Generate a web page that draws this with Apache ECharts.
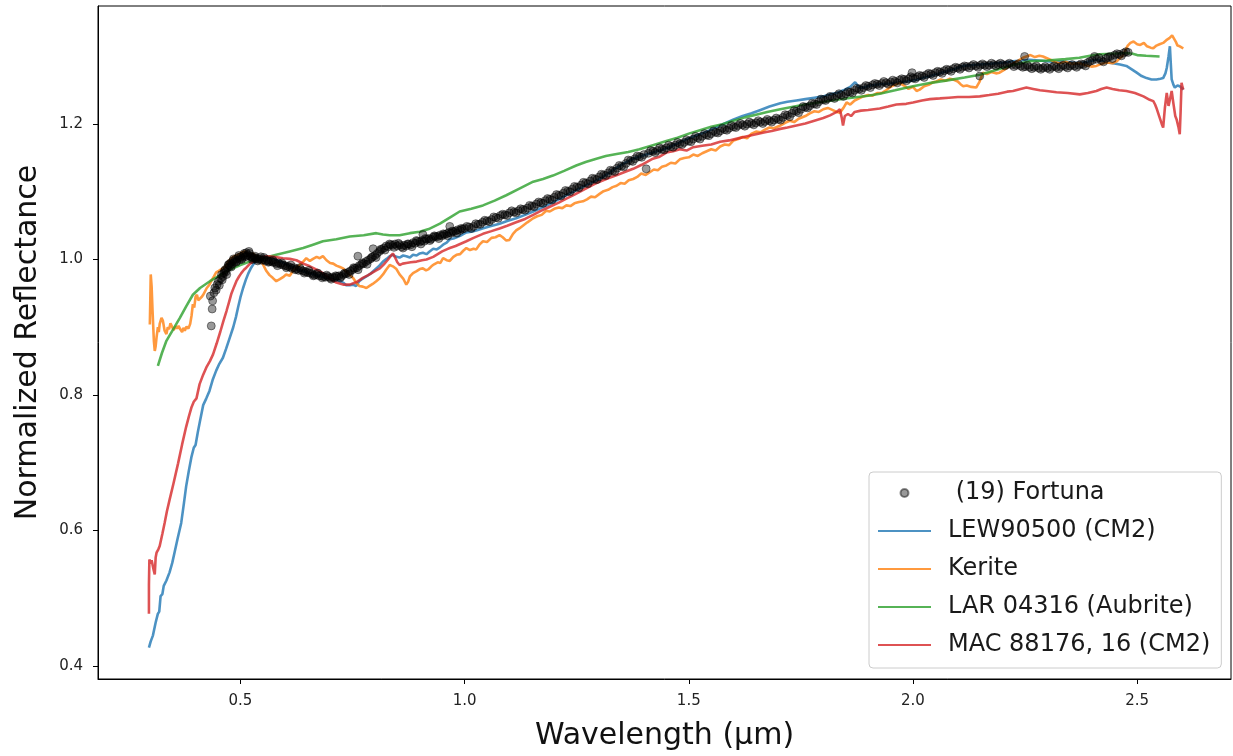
<!DOCTYPE html>
<html>
<head>
<meta charset="utf-8">
<script src="https://cdn.jsdelivr.net/npm/echarts@6/dist/echarts.min.js"></script>
<style>html,body{margin:0;padding:0;background:#fff}#c{width:1233px;height:756px}</style>
</head>
<body>
<div id="c"></div>
<script>
const xTicks = [0.5, 1.0, 1.5, 2.0, 2.5];
const yTicks = [0.4, 0.6, 0.8, 1.0, 1.2];
const seriesNames = [' (19) Fortuna', 'LEW90500 (CM2)', 'Kerite', 'LAR 04316 (Aubrite)', 'MAC 88176, 16 (CM2)'];

const fortuna = [[0.435,0.902],[0.437,0.927],[0.433,0.946],[0.438,0.939],[0.441,0.951],[0.443,0.958],[0.446,0.955],[0.448,0.963],[0.451,0.968],[0.453,0.962],[0.456,0.972],[0.458,0.978],[0.461,0.975],[0.463,0.980],[0.466,0.985],[0.468,0.982],[0.471,0.988],[0.473,0.992],[0.476,0.990],[0.478,0.995],[0.481,0.993],[0.483,0.998],[0.486,0.996],[0.489,1.000],[0.492,0.998],[0.495,1.003],[0.498,1.000],[0.501,1.004],[0.504,1.002],[0.507,1.006],[0.510,1.004],[0.513,1.010],[0.516,1.007],[0.519,1.012],[0.522,1.005],[0.525,1.004],[0.528,1.002],[0.531,1.003],[0.534,1.001],[0.537,1.002],[0.540,1.000],[0.544,1.001],[0.548,0.999],[0.552,1.000],[0.556,0.998],[0.560,0.999],[0.564,0.997],[0.568,0.998],[0.572,0.996],[0.576,0.996],[0.580,0.994],[0.585,0.995],[0.590,0.993],[0.595,0.992],[0.600,0.991],[0.605,0.990],[0.610,0.989],[0.615,0.987],[0.620,0.988],[0.625,0.986],[0.630,0.984],[0.635,0.985],[0.640,0.983],[0.645,0.982],[0.650,0.981],[0.655,0.980],[0.660,0.979],[0.665,0.977],[0.670,0.978],[0.675,0.976],[0.680,0.976],[0.685,0.975],[0.690,0.974],[0.695,0.975],[0.700,0.973],[0.705,0.974],[0.710,0.973],[0.715,0.975],[0.720,0.976],[0.725,0.975],[0.730,0.978],[0.735,0.979],[0.740,0.981],[0.745,0.983],[0.750,0.985],[0.755,0.987],[0.760,0.988],[0.762,1.005],[0.765,0.991],[0.770,0.993],[0.775,0.994],[0.780,0.997],[0.785,0.999],[0.790,1.001],[0.795,1.004],[0.796,1.016],[0.800,1.006],[0.805,1.009],[0.810,1.012],[0.815,1.015],[0.820,1.017],[0.825,1.020],[0.830,1.019],[0.835,1.022],[0.840,1.021],[0.845,1.023],[0.850,1.020],[0.855,1.022],[0.860,1.019],[0.865,1.021],[0.870,1.020],[0.875,1.023],[0.880,1.022],[0.885,1.025],[0.890,1.024],[0.895,1.027],[0.900,1.026],[0.905,1.028],[0.907,1.037],[0.910,1.027],[0.915,1.030],[0.920,1.031],[0.925,1.030],[0.930,1.033],[0.935,1.034],[0.940,1.034],[0.945,1.036],[0.950,1.035],[0.955,1.037],[0.960,1.038],[0.965,1.040],[0.967,1.049],[0.970,1.039],[0.975,1.041],[0.980,1.042],[0.985,1.044],[0.990,1.043],[0.995,1.045],[1.000,1.046],[1.010,1.048],[1.020,1.049],[1.030,1.052],[1.040,1.055],[1.050,1.057],[1.060,1.059],[1.070,1.062],[1.080,1.065],[1.090,1.066],[1.100,1.069],[1.110,1.070],[1.120,1.072],[1.130,1.074],[1.140,1.076],[1.150,1.079],[1.160,1.082],[1.170,1.084],[1.180,1.087],[1.190,1.089],[1.200,1.092],[1.210,1.095],[1.220,1.098],[1.230,1.101],[1.240,1.104],[1.250,1.107],[1.260,1.110],[1.270,1.113],[1.280,1.116],[1.290,1.119],[1.300,1.122],[1.310,1.125],[1.320,1.128],[1.330,1.131],[1.340,1.135],[1.350,1.138],[1.360,1.142],[1.370,1.146],[1.380,1.149],[1.390,1.152],[1.400,1.155],[1.405,1.134],[1.410,1.157],[1.420,1.160],[1.430,1.161],[1.440,1.163],[1.450,1.165],[1.460,1.167],[1.470,1.169],[1.480,1.171],[1.490,1.173],[1.500,1.175],[1.510,1.178],[1.520,1.180],[1.530,1.182],[1.540,1.184],[1.550,1.186],[1.560,1.188],[1.570,1.190],[1.580,1.192],[1.590,1.194],[1.600,1.196],[1.610,1.198],[1.620,1.199],[1.630,1.200],[1.640,1.201],[1.650,1.202],[1.660,1.203],[1.670,1.204],[1.680,1.205],[1.690,1.206],[1.700,1.207],[1.710,1.210],[1.720,1.213],[1.730,1.216],[1.740,1.219],[1.750,1.222],[1.760,1.225],[1.770,1.227],[1.780,1.230],[1.790,1.233],[1.800,1.236],[1.810,1.238],[1.820,1.240],[1.830,1.242],[1.840,1.243],[1.850,1.245],[1.860,1.247],[1.870,1.250],[1.880,1.252],[1.890,1.254],[1.900,1.256],[1.910,1.258],[1.920,1.259],[1.930,1.260],[1.940,1.261],[1.950,1.262],[1.960,1.263],[1.970,1.265],[1.980,1.266],[1.990,1.267],[1.998,1.276],[2.000,1.268],[2.010,1.270],[2.020,1.271],[2.030,1.273],[2.040,1.274],[2.050,1.276],[2.060,1.277],[2.070,1.279],[2.080,1.280],[2.090,1.282],[2.100,1.283],[2.110,1.284],[2.120,1.285],[2.130,1.286],[2.140,1.286],[2.149,1.271],[2.150,1.287],[2.160,1.287],[2.170,1.287],[2.180,1.288],[2.190,1.288],[2.200,1.288],[2.210,1.288],[2.220,1.288],[2.230,1.287],[2.240,1.286],[2.249,1.300],[2.250,1.285],[2.260,1.284],[2.270,1.284],[2.280,1.283],[2.290,1.283],[2.300,1.283],[2.310,1.284],[2.320,1.284],[2.330,1.285],[2.340,1.285],[2.350,1.286],[2.360,1.286],[2.370,1.287],[2.380,1.288],[2.390,1.291],[2.400,1.294],[2.405,1.300],[2.410,1.296],[2.420,1.294],[2.430,1.297],[2.440,1.300],[2.450,1.302],[2.460,1.303],[2.470,1.305],[2.480,1.306],
[0.4595,0.970],[0.4645,0.983],[0.4695,0.978],[0.4745,0.993],[0.4795,0.989],[0.4845,1.001],[0.4905,0.996],[0.4965,1.006],[0.5025,1.000],[0.5085,1.009],[0.5145,1.005],[0.5205,1.009],[0.5265,1.000],[0.5325,1.005],[0.5385,0.998],[0.5455,1.004],
[0.5525,1.003],[0.5625,0.996],[0.5725,0.999],[0.5825,0.991],[0.5925,0.995],[0.6025,0.988],[0.6125,0.992],[0.6225,0.985],[0.6325,0.988],[0.6425,0.980],[0.6525,0.984],[0.6625,0.976],[0.6725,0.980],[0.6825,0.973],[0.6925,0.977],[0.7025,0.971],[0.7125,0.976],[0.7225,0.973],[0.7325,0.980],[0.7425,0.978],[0.7525,0.988],[0.7625,0.985],[0.7725,0.995],[0.7825,0.993],[0.7925,1.003],[0.8025,1.003],[0.8125,1.015],[0.8225,1.014],[0.8325,1.023],[0.8425,1.018],[0.8525,1.024],[0.8625,1.017],[0.8725,1.023],[0.8825,1.019],[0.8925,1.028],[0.9025,1.023],[0.9125,1.031],[0.9225,1.028],[0.9325,1.035],[0.9425,1.031],[0.9525,1.038],[0.9625,1.035],[0.9725,1.042],[0.9825,1.039],[0.9925,1.046],
[1.005,1.049],[1.015,1.046],[1.025,1.053],[1.035,1.052],[1.045,1.058],[1.055,1.056],[1.065,1.063],[1.075,1.061],[1.085,1.067],[1.095,1.065],[1.105,1.072],[1.115,1.069],[1.125,1.075],[1.135,1.073],[1.145,1.080],[1.155,1.078],[1.165,1.085],[1.175,1.083],[1.185,1.090],[1.195,1.088],[1.205,1.096],[1.215,1.094],[1.225,1.102],[1.235,1.100],[1.245,1.108],[1.255,1.106],[1.265,1.114],[1.275,1.112],[1.285,1.120],[1.295,1.118],[1.305,1.126],[1.315,1.124],[1.325,1.132],[1.335,1.130],[1.345,1.139],[1.355,1.137],[1.365,1.147],[1.375,1.145],[1.385,1.153],[1.395,1.151],[1.415,1.161],[1.425,1.158],[1.435,1.165],[1.445,1.162],[1.455,1.169],[1.465,1.166],[1.475,1.173],[1.485,1.170],[1.495,1.177],[1.505,1.174],[1.515,1.182],[1.525,1.178],[1.535,1.186],[1.545,1.183],[1.555,1.190],[1.565,1.187],[1.575,1.194],[1.585,1.191],[1.595,1.198],[1.605,1.195],[1.615,1.201],[1.625,1.197],[1.635,1.203],[1.645,1.199],[1.655,1.205],[1.665,1.201],[1.675,1.207],[1.685,1.203],[1.695,1.209],[1.705,1.206],[1.715,1.214],[1.725,1.211],[1.735,1.220],[1.745,1.217],[1.755,1.226],[1.765,1.224],[1.775,1.231],[1.785,1.229],[1.795,1.237],[1.805,1.235],[1.815,1.241],[1.825,1.238],[1.835,1.245],[1.845,1.241],[1.855,1.248],[1.865,1.246],[1.875,1.253],[1.885,1.250],[1.895,1.257],[1.905,1.254],[1.915,1.260],[1.925,1.257],[1.935,1.263],[1.945,1.259],[1.955,1.265],[1.965,1.261],[1.975,1.267],[1.985,1.264],[1.995,1.270],[2.005,1.267],[2.015,1.272],[2.025,1.269],[2.035,1.275],[2.045,1.272],[2.055,1.278],[2.065,1.275],[2.075,1.281],[2.085,1.278],[2.095,1.284],[2.105,1.281],[2.115,1.286],[2.125,1.283],[2.135,1.288],[2.145,1.284],[2.155,1.289],[2.165,1.285],[2.175,1.290],[2.185,1.286],[2.195,1.290],[2.205,1.286],[2.215,1.290],[2.225,1.285],[2.235,1.289],[2.245,1.284],[2.255,1.287],[2.265,1.282],[2.275,1.286],[2.285,1.281],[2.295,1.285],[2.305,1.281],[2.315,1.286],[2.325,1.282],[2.335,1.287],[2.345,1.283],[2.355,1.288],[2.365,1.284],[2.375,1.289],[2.385,1.286],[2.395,1.293],[2.415,1.298],[2.425,1.292],[2.435,1.299],[2.445,1.297],[2.455,1.304],[2.465,1.301],[2.475,1.307]];

const lew90500 = [[0.296,0.427],[0.300,0.436],[0.305,0.445],[0.308,0.447],[0.311,0.464],[0.313,0.462],[0.316,0.477],[0.319,0.480],[0.322,0.503],[0.326,0.506],[0.329,0.518],[0.335,0.526],[0.342,0.538],[0.348,0.552],[0.353,0.567],[0.360,0.588],[0.368,0.611],[0.374,0.640],[0.379,0.665],[0.385,0.688],[0.391,0.709],[0.396,0.722],[0.400,0.726],[0.405,0.745],[0.410,0.762],[0.417,0.785],[0.424,0.795],[0.431,0.806],[0.438,0.822],[0.446,0.836],[0.453,0.846],[0.461,0.855],[0.468,0.868],[0.476,0.884],[0.484,0.900],[0.490,0.915],[0.495,0.930],[0.500,0.944],[0.506,0.958],[0.512,0.970],[0.518,0.980],[0.524,0.988],[0.530,0.994],[0.537,0.999],[0.545,1.002],[0.555,1.004],[0.565,1.004],[0.575,1.001],[0.590,0.997],[0.605,0.992],[0.620,0.988],[0.635,0.984],[0.650,0.981],[0.665,0.978],[0.680,0.975],[0.695,0.973],[0.710,0.970],[0.722,0.968],[0.729,0.966],[0.736,0.962],[0.744,0.962],[0.751,0.963],[0.758,0.961],[0.765,0.968],[0.773,0.972],[0.781,0.975],[0.790,0.979],[0.800,0.985],[0.810,0.991],[0.818,0.997],[0.826,1.001],[0.833,1.005],[0.840,1.007],[0.848,1.004],[0.855,1.003],[0.863,1.006],[0.870,1.005],[0.878,1.003],[0.885,1.007],[0.893,1.006],[0.900,1.009],[0.907,1.010],[0.915,1.008],[0.922,1.012],[0.930,1.016],[0.938,1.015],[0.945,1.018],[0.952,1.022],[0.960,1.025],[0.967,1.030],[0.975,1.031],[0.982,1.033],[0.990,1.035],[1.004,1.040],[1.015,1.041],[1.026,1.043],[1.040,1.046],[1.055,1.049],[1.078,1.053],[1.095,1.057],[1.115,1.061],[1.135,1.066],[1.153,1.071],[1.170,1.076],[1.190,1.082],[1.210,1.089],[1.227,1.095],[1.245,1.101],[1.265,1.108],[1.285,1.114],[1.301,1.119],[1.320,1.127],[1.340,1.136],[1.361,1.144],[1.380,1.150],[1.400,1.154],[1.420,1.158],[1.440,1.162],[1.460,1.167],[1.480,1.173],[1.500,1.179],[1.520,1.184],[1.540,1.189],[1.560,1.195],[1.580,1.201],[1.600,1.207],[1.620,1.212],[1.640,1.216],[1.660,1.221],[1.680,1.226],[1.704,1.231],[1.720,1.233],[1.740,1.235],[1.760,1.237],[1.780,1.239],[1.800,1.241],[1.815,1.244],[1.830,1.246],[1.845,1.250],[1.860,1.255],[1.871,1.262],[1.880,1.254],[1.889,1.254],[1.905,1.257],[1.926,1.259],[1.950,1.260],[1.970,1.262],[1.986,1.263],[2.005,1.265],[2.020,1.268],[2.038,1.271],[2.055,1.274],[2.075,1.278],[2.095,1.282],[2.112,1.286],[2.130,1.287],[2.149,1.288],[2.170,1.289],[2.186,1.290],[2.205,1.291],[2.223,1.293],[2.240,1.294],[2.260,1.295],[2.280,1.294],[2.298,1.293],[2.315,1.292],[2.335,1.293],[2.355,1.291],[2.372,1.290],[2.390,1.292],[2.409,1.295],[2.428,1.292],[2.446,1.290],[2.462,1.288],[2.476,1.286],[2.488,1.281],[2.499,1.276],[2.510,1.271],[2.521,1.268],[2.532,1.266],[2.543,1.266],[2.552,1.267],[2.558,1.268],[2.563,1.275],[2.566,1.283],[2.570,1.300],[2.573,1.315],[2.575,1.290],[2.577,1.266],[2.581,1.258],[2.584,1.254],[2.590,1.257],[2.595,1.256],[2.600,1.253],[2.603,1.251]];

const kerite = [[0.298,0.904],[0.299,0.940],[0.300,0.978],[0.302,0.960],[0.304,0.925],[0.307,0.880],[0.309,0.865],[0.311,0.872],[0.313,0.885],[0.316,0.900],[0.318,0.893],[0.320,0.905],[0.324,0.914],[0.327,0.910],[0.331,0.895],[0.335,0.890],[0.338,0.900],[0.341,0.897],[0.344,0.906],[0.348,0.904],[0.351,0.896],[0.353,0.895],[0.356,0.901],[0.359,0.898],[0.362,0.902],[0.366,0.897],[0.370,0.893],[0.373,0.899],[0.376,0.895],[0.380,0.901],[0.384,0.898],[0.388,0.905],[0.391,0.917],[0.394,0.934],[0.397,0.929],[0.400,0.945],[0.403,0.948],[0.406,0.940],[0.410,0.939],[0.414,0.945],[0.417,0.948],[0.421,0.950],[0.425,0.958],[0.430,0.962],[0.435,0.968],[0.441,0.975],[0.446,0.981],[0.451,0.983],[0.456,0.985],[0.461,0.987],[0.467,0.990],[0.473,0.997],[0.480,1.002],[0.487,1.005],[0.495,1.007],[0.502,1.010],[0.510,1.012],[0.516,1.008],[0.521,1.005],[0.528,1.009],[0.536,1.004],[0.545,1.000],[0.551,0.992],[0.558,0.983],[0.565,0.977],[0.572,0.973],[0.580,0.968],[0.588,0.971],[0.595,0.974],[0.602,0.978],[0.610,0.976],[0.617,0.983],[0.625,0.988],[0.632,0.992],[0.640,0.997],[0.647,1.002],[0.655,0.998],[0.662,1.001],[0.670,1.004],[0.677,1.002],[0.684,1.005],[0.692,0.999],[0.700,0.995],[0.707,0.994],[0.714,0.991],[0.722,0.989],[0.729,0.987],[0.736,0.982],[0.744,0.977],[0.751,0.973],[0.758,0.966],[0.765,0.961],[0.773,0.960],[0.781,0.958],[0.788,0.961],[0.795,0.964],[0.803,0.968],[0.810,0.972],[0.818,0.978],[0.825,0.985],[0.833,0.992],[0.840,0.990],[0.848,0.986],[0.855,0.978],[0.863,0.972],[0.870,0.963],[0.874,0.967],[0.878,0.975],[0.885,0.980],[0.893,0.983],[0.900,0.986],[0.907,0.987],[0.914,0.984],[0.920,0.986],[0.926,0.990],[0.932,0.993],[0.940,0.996],[0.946,0.995],[0.952,1.002],[0.960,0.999],[0.967,0.998],[0.975,1.004],[0.982,1.007],[0.990,1.008],[0.997,1.013],[1.004,1.017],[1.012,1.014],[1.020,1.016],[1.026,1.015],[1.033,1.022],[1.041,1.027],[1.050,1.026],[1.060,1.032],[1.069,1.033],[1.078,1.036],[1.085,1.033],[1.093,1.028],[1.100,1.029],[1.108,1.038],[1.115,1.043],[1.122,1.046],[1.130,1.050],[1.140,1.055],[1.153,1.061],[1.162,1.064],[1.172,1.066],[1.182,1.072],[1.190,1.071],[1.200,1.075],[1.210,1.077],[1.218,1.076],[1.227,1.080],[1.236,1.079],[1.245,1.083],[1.255,1.085],[1.264,1.086],[1.273,1.089],[1.282,1.093],[1.291,1.092],[1.301,1.097],[1.310,1.101],[1.320,1.103],[1.330,1.107],[1.339,1.109],[1.348,1.113],[1.357,1.112],[1.366,1.117],[1.376,1.119],[1.385,1.122],[1.394,1.127],[1.404,1.125],[1.413,1.129],[1.422,1.133],[1.431,1.132],[1.440,1.137],[1.450,1.139],[1.460,1.143],[1.470,1.142],[1.480,1.148],[1.490,1.150],[1.500,1.151],[1.510,1.155],[1.520,1.153],[1.530,1.157],[1.540,1.160],[1.550,1.163],[1.560,1.161],[1.570,1.167],[1.580,1.170],[1.590,1.169],[1.600,1.176],[1.610,1.178],[1.620,1.181],[1.630,1.179],[1.640,1.186],[1.650,1.189],[1.660,1.188],[1.670,1.192],[1.680,1.195],[1.690,1.194],[1.704,1.198],[1.715,1.202],[1.725,1.205],[1.735,1.203],[1.745,1.208],[1.760,1.212],[1.770,1.216],[1.780,1.219],[1.790,1.218],[1.800,1.222],[1.810,1.224],[1.820,1.221],[1.830,1.218],[1.837,1.217],[1.845,1.224],[1.852,1.232],[1.860,1.229],[1.870,1.235],[1.880,1.238],[1.889,1.241],[1.900,1.243],[1.910,1.242],[1.920,1.246],[1.930,1.246],[1.940,1.250],[1.950,1.255],[1.960,1.258],[1.970,1.261],[1.980,1.257],[1.990,1.252],[2.000,1.255],[2.008,1.249],[2.015,1.251],[2.025,1.256],[2.035,1.258],[2.045,1.262],[2.052,1.263],[2.062,1.266],[2.072,1.264],[2.082,1.267],[2.090,1.266],[2.100,1.263],[2.106,1.259],[2.112,1.256],[2.120,1.257],[2.130,1.255],[2.141,1.254],[2.148,1.262],[2.156,1.276],[2.165,1.274],[2.175,1.277],[2.185,1.275],[2.193,1.276],[2.205,1.281],[2.215,1.286],[2.225,1.290],[2.235,1.294],[2.245,1.298],[2.253,1.300],[2.262,1.302],[2.272,1.299],[2.282,1.301],[2.290,1.300],[2.300,1.297],[2.310,1.294],[2.320,1.291],[2.327,1.290],[2.340,1.292],[2.355,1.289],[2.372,1.290],[2.385,1.287],[2.398,1.285],[2.409,1.286],[2.420,1.289],[2.432,1.291],[2.446,1.290],[2.455,1.293],[2.462,1.298],[2.467,1.300],[2.473,1.308],[2.479,1.316],[2.485,1.320],[2.492,1.322],[2.500,1.318],[2.507,1.317],[2.515,1.320],[2.522,1.315],[2.530,1.313],[2.536,1.312],[2.543,1.316],[2.550,1.318],[2.558,1.320],[2.565,1.324],[2.572,1.327],[2.578,1.331],[2.581,1.330],[2.586,1.322],[2.590,1.316],[2.595,1.315],[2.600,1.313],[2.603,1.312]];

const lar04316 = [[0.316,0.843],[0.325,0.862],[0.335,0.880],[0.350,0.897],[0.365,0.914],[0.380,0.932],[0.394,0.948],[0.410,0.958],[0.432,0.968],[0.455,0.977],[0.476,0.985],[0.500,0.992],[0.521,0.997],[0.550,1.002],[0.580,1.007],[0.610,1.012],[0.640,1.017],[0.662,1.022],[0.684,1.027],[0.714,1.030],[0.744,1.034],[0.775,1.036],[0.803,1.039],[0.818,1.037],[0.833,1.036],[0.855,1.036],[0.878,1.039],[0.900,1.041],[0.920,1.045],[0.945,1.053],[0.967,1.062],[0.989,1.071],[1.015,1.075],[1.041,1.080],[1.067,1.087],[1.093,1.095],[1.120,1.104],[1.153,1.115],[1.175,1.119],[1.197,1.124],[1.222,1.131],[1.249,1.139],[1.270,1.144],[1.294,1.149],[1.315,1.153],[1.339,1.156],[1.365,1.159],[1.390,1.163],[1.420,1.169],[1.450,1.175],[1.475,1.180],[1.500,1.186],[1.525,1.191],[1.550,1.196],[1.575,1.200],[1.600,1.205],[1.625,1.210],[1.650,1.214],[1.675,1.218],[1.704,1.222],[1.750,1.228],[1.800,1.233],[1.850,1.238],[1.900,1.242],[1.926,1.245],[1.960,1.250],[2.000,1.256],[2.040,1.261],[2.080,1.265],[2.115,1.269],[2.149,1.273],[2.185,1.280],[2.220,1.287],[2.260,1.293],[2.300,1.294],[2.340,1.296],[2.371,1.298],[2.395,1.301],[2.416,1.303],[2.445,1.304],[2.476,1.305],[2.490,1.304],[2.500,1.302],[2.520,1.301],[2.550,1.300]];

const mac88176 = [[0.296,0.477],[0.296,0.520],[0.297,0.557],[0.300,0.551],[0.302,0.556],[0.305,0.554],[0.307,0.540],[0.309,0.535],[0.311,0.560],[0.313,0.567],[0.317,0.572],[0.320,0.577],[0.326,0.595],[0.331,0.611],[0.336,0.628],[0.342,0.645],[0.351,0.670],[0.361,0.699],[0.370,0.727],[0.379,0.753],[0.385,0.768],[0.391,0.782],[0.396,0.790],[0.402,0.795],[0.409,0.816],[0.417,0.830],[0.425,0.842],[0.432,0.850],[0.439,0.860],[0.447,0.876],[0.455,0.893],[0.462,0.909],[0.469,0.924],[0.475,0.938],[0.480,0.950],[0.486,0.960],[0.491,0.968],[0.497,0.975],[0.502,0.980],[0.508,0.985],[0.513,0.988],[0.520,0.993],[0.528,0.997],[0.536,1.000],[0.547,1.003],[0.558,1.005],[0.575,1.004],[0.595,1.002],[0.610,1.001],[0.625,0.999],[0.640,0.994],[0.655,0.990],[0.670,0.985],[0.684,0.980],[0.699,0.972],[0.714,0.966],[0.729,0.963],[0.744,0.963],[0.752,0.965],[0.760,0.967],[0.773,0.973],[0.785,0.977],[0.800,0.983],[0.811,0.987],[0.820,0.993],[0.828,0.999],[0.835,1.005],[0.840,1.009],[0.845,1.003],[0.850,0.996],[0.855,0.992],[0.862,0.994],[0.870,0.995],[0.880,0.996],[0.893,0.997],[0.905,0.999],[0.915,1.000],[0.930,1.004],[0.940,1.008],[0.950,1.012],[0.960,1.015],[0.967,1.017],[0.980,1.020],[0.990,1.023],[1.004,1.027],[1.020,1.032],[1.041,1.038],[1.060,1.042],[1.078,1.046],[1.095,1.050],[1.115,1.055],[1.135,1.060],[1.153,1.066],[1.170,1.072],[1.190,1.078],[1.210,1.084],[1.227,1.090],[1.245,1.096],[1.265,1.103],[1.285,1.110],[1.301,1.115],[1.320,1.120],[1.340,1.125],[1.360,1.130],[1.376,1.134],[1.395,1.140],[1.420,1.149],[1.435,1.152],[1.450,1.158],[1.465,1.160],[1.480,1.163],[1.495,1.161],[1.510,1.166],[1.530,1.168],[1.550,1.170],[1.570,1.174],[1.590,1.176],[1.610,1.179],[1.630,1.182],[1.650,1.185],[1.670,1.188],[1.685,1.190],[1.704,1.193],[1.720,1.195],[1.740,1.198],[1.760,1.201],[1.780,1.205],[1.800,1.209],[1.815,1.213],[1.830,1.218],[1.837,1.222],[1.841,1.210],[1.844,1.198],[1.848,1.212],[1.855,1.215],[1.862,1.212],[1.870,1.218],[1.884,1.220],[1.900,1.221],[1.926,1.223],[1.945,1.226],[1.963,1.229],[1.985,1.230],[2.000,1.232],[2.020,1.235],[2.038,1.237],[2.060,1.238],[2.080,1.239],[2.100,1.240],[2.125,1.240],[2.149,1.241],[2.170,1.243],[2.190,1.245],[2.210,1.248],[2.223,1.249],[2.240,1.252],[2.253,1.254],[2.268,1.252],[2.283,1.250],[2.298,1.249],[2.320,1.247],[2.345,1.246],[2.372,1.244],[2.390,1.246],[2.409,1.249],[2.420,1.252],[2.432,1.254],[2.445,1.252],[2.460,1.250],[2.476,1.249],[2.495,1.246],[2.514,1.241],[2.528,1.236],[2.536,1.234],[2.540,1.229],[2.543,1.224],[2.550,1.210],[2.555,1.200],[2.558,1.195],[2.562,1.225],[2.566,1.246],[2.570,1.227],[2.573,1.236],[2.577,1.249],[2.581,1.230],[2.585,1.212],[2.588,1.207],[2.592,1.196],[2.595,1.185],[2.597,1.220],[2.599,1.261],[2.601,1.255],[2.603,1.251]];

const FONT = 'DejaVu Sans';
const lineSeries = (name, data, color, z) => ({
  name, type: 'line', data, z,
  symbol: 'none', showSymbol: false, smooth: false, sampling: null,
  lineStyle: { color, width: 2.6 }, itemStyle: { color },
  emphasis: { disabled: true }, animation: false
});
const hiddenDot = { color: 'rgba(0,0,0,0)', borderWidth: 0, opacity: 0 };

const chart = echarts.init(document.getElementById('c'), null, { renderer: 'canvas' });
chart.setOption({
  animation: false,
  backgroundColor: '#ffffff',
  grid: { left: 98, top: 6, width: 1133, height: 678, show: true, borderColor: '#000', borderWidth: 1, backgroundColor: 'transparent' },
  xAxis: {
    type: 'value', min: 0.1824, max: 2.7093,
    name: 'Wavelength (µm)', nameLocation: 'middle', nameGap: 42,
    nameTextStyle: { fontFamily: FONT, fontSize: 30, color: '#111' },
    axisLine: { show: true, lineStyle: { color: '#000', width: 1 } },
    axisTick: { show: true, customValues: xTicks, length: 5, lineStyle: { color: '#000', width: 1 } },
    axisLabel: { customValues: xTicks, formatter: v => v.toFixed(1), fontFamily: FONT, fontSize: 15, color: '#222', margin: 15 },
    splitLine: { show: false }
  },
  yAxis: {
    type: 'value', min: 0.3805, max: 1.3745,
    name: 'Normalized Reflectance', nameLocation: 'middle', nameGap: 55,
    nameTextStyle: { fontFamily: FONT, fontSize: 30, color: '#111' },
    axisLine: { show: true, lineStyle: { color: '#000', width: 1 } },
    axisTick: { show: true, customValues: yTicks, length: 5, lineStyle: { color: '#000', width: 1 } },
    axisLabel: { customValues: yTicks, formatter: v => v.toFixed(1), fontFamily: FONT, fontSize: 15, color: '#222', margin: 15 },
    splitLine: { show: false }
  },
  legend: {
    data: [
      { name: seriesNames[0] },
      { name: seriesNames[1], itemStyle: hiddenDot },
      { name: seriesNames[2], itemStyle: hiddenDot },
      { name: seriesNames[3], itemStyle: hiddenDot },
      { name: seriesNames[4], itemStyle: hiddenDot }
    ],
    orient: 'vertical', left: 869, top: 472,
    itemWidth: 53, itemHeight: 8, itemGap: 10,
    padding: [7, 11, 9, 8],
    backgroundColor: 'rgba(255,255,255,0.8)', borderColor: '#cccccc', borderWidth: 1, borderRadius: 4,
    selectedMode: false,
    textStyle: { fontFamily: FONT, fontSize: 24, color: '#1a1a1a', lineHeight: 28, padding: [0, 0, 0, 12] }
  },
  series: [
    {
      name: seriesNames[0], type: 'scatter', data: fortuna, z: 5,
      symbol: 'circle', symbolSize: 8,
      itemStyle: { color: 'rgba(0,0,0,0.5)', borderColor: 'rgba(0,0,0,0.55)', borderWidth: 1 },
      emphasis: { disabled: true }, animation: false
    },
    lineSeries(seriesNames[1], lew90500, 'rgba(31,119,180,0.8)', 2),
    lineSeries(seriesNames[2], kerite, 'rgba(255,127,14,0.8)', 2),
    lineSeries(seriesNames[3], lar04316, 'rgba(44,160,44,0.8)', 2),
    lineSeries(seriesNames[4], mac88176, 'rgba(214,39,40,0.8)', 2)
  ]
});
</script>
</body>
</html>
